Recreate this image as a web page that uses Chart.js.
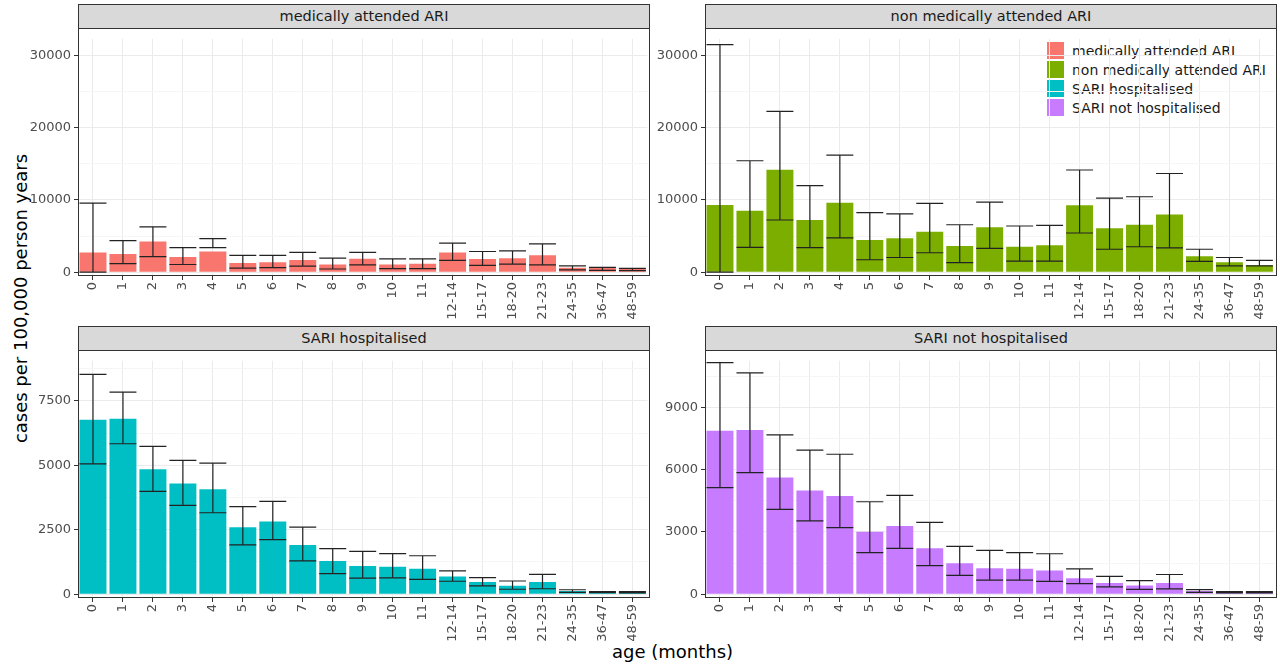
<!DOCTYPE html>
<html><head><meta charset="utf-8">
<script src="https://cdn.jsdelivr.net/npm/chart.js@4/dist/chart.umd.min.js"></script>
<style>
body{margin:0;width:1280px;height:667px;background:#fff;position:relative;font-family:"DejaVu Sans",sans-serif;overflow:hidden}
.c{position:absolute}
.strip{position:absolute;background:#d9d9d9;border:1px solid #333;box-sizing:border-box;text-align:center;font-size:14.5px;color:#1a1a1a;line-height:23px}
.frame{position:absolute;border:1px solid #333;box-sizing:border-box;pointer-events:none}
#legend{position:absolute;left:1047px;top:41px;font-size:14px;color:#1a1a1a}
#legend div{height:19px;line-height:18px;display:flex;align-items:center}
#legend span{display:inline-block;width:17px;height:17px;margin-right:8px}
.ttl{position:absolute;font-size:18px;color:#000}
</style></head><body>
<div id="legend"></div>
<div class="ttl" style="left:612px;top:641px">age (months)</div>
<div class="ttl" style="left:-130px;top:288px;width:300px;text-align:center;transform:rotate(-90deg)">cases per 100,000 person years</div>
<script>
const categories=["0","1","2","3","4","5","6","7","8","9","10","11","12-14","15-17","18-20","21-23","24-35","36-47","48-59"];
const seriesNames=["medically attended ARI","non medically attended ARI","SARI hospitalised","SARI not hospitalised"];
const maMean=[2730,2510,4230,2110,2860,1280,1370,1670,1060,1850,1060,1150,2730,1810,1940,2330,620,560,480];
const maLow=[0,1190,2160,1060,3390,570,620,840,440,1010,480,480,1630,930,1100,1010,310,260,220];
const maUp=[9560,4360,6260,3390,4630,2330,2330,2730,1940,2730,1850,1850,4010,2860,2950,3920,880,660,530];
const nmMean=[9300,8500,14190,7220,9600,4450,4710,5590,3610,6210,3520,3740,9250,6080,6560,7970,2200,1370,970];
const nmLow=[0,3440,7220,3390,4760,1720,2030,2690,1320,3300,1540,1540,5420,3170,3520,3350,1500,880,880];
const nmUp=[31500,15420,22250,11980,16210,8240,8060,9520,6560,9690,6390,6480,14140,10260,10440,13660,3170,2030,1630];
const shMean=[6770,6810,4850,4300,4070,2600,2820,1910,1290,1090,1060,990,680,470,330,470,120,90,90];
const shLow=[5060,5840,3990,3450,3160,1910,2120,1290,800,620,630,570,500,320,190,210,70,60,50];
const shUp=[8530,7840,5740,5190,5090,3400,3600,2600,1770,1660,1570,1490,900,640,510,770,170,100,100];
const snMean=[7890,7920,5630,5000,4740,3010,3290,2210,1490,1250,1230,1140,770,540,420,540,150,110,110];
const snLow=[5140,5860,4090,3540,3210,2000,2210,1380,910,680,680,620,510,350,230,260,90,60,60];
const snUp=[11170,10680,7690,6950,6750,4460,4770,3460,2310,2110,2000,1950,1220,860,650,950,220,120,120];
const topMajor=[0,10000,20000,30000],topMinor=[5000,15000,25000];
const shMajor=[0,2500,5000,7500],shMinor=[1250,3750,6250,8750];
const snMajor=[0,3000,6000,9000],snMinor=[1500,4500,7500,10500];
const colors=["#F8766D","#7CAE00","#00BFC4","#C77CFF"];

const lg=document.getElementById('legend');
seriesNames.forEach((n,i)=>{const d=document.createElement('div');d.innerHTML='<span style="background:'+colors[i]+'"></span>'+n;lg.appendChild(d);});

const errPlugin={id:'err',afterDatasetsDraw(ch){
  const o=ch.options.plugins.err;const x=ch.scales.x,y=ch.scales.y,ctx=ch.ctx;
  const meta=ch.getDatasetMeta(0);const w=meta.data[0].width;
  ctx.save();ctx.strokeStyle='#222';ctx.lineWidth=1.2;
  o.low.forEach((lo,i)=>{const cx=x.getPixelForValue(i),yl=y.getPixelForValue(lo),yu=y.getPixelForValue(o.up[i]);
    ctx.beginPath();ctx.moveTo(cx,yl);ctx.lineTo(cx,yu);
    ctx.moveTo(cx-w/2,yl);ctx.lineTo(cx+w/2,yl);ctx.moveTo(cx-w/2,yu);ctx.lineTo(cx+w/2,yu);ctx.stroke();});
  ctx.restore();}};

function panel(p){
  const stripH=24;
  const s=document.createElement('div');s.className='strip';
  s.style.cssText+=`left:${p.pl}px;top:${p.pt-stripH}px;width:${p.pr-p.pl}px;height:${stripH+1}px`;
  s.textContent=p.title;document.body.appendChild(s);
  const cv=document.createElement('canvas');cv.className='c';
  const W=p.pr-p.cl,H=p.pb-p.pt+50;
  cv.style.cssText=`left:${p.cl}px;top:${p.pt}px;width:${W}px;height:${H}px`;
  document.body.appendChild(cv);
  const f=document.createElement('div');f.className='frame';
  f.style.cssText=`left:${p.pl}px;top:${p.pt}px;width:${p.pr-p.pl}px;height:${p.pb-p.pt}px`;document.body.appendChild(f);
  const allT=[...p.major,...p.minor].sort((a,b)=>a-b);
  new Chart(cv,{type:'bar',data:{labels:categories,datasets:[{data:p.mean,backgroundColor:p.color,barPercentage:0.9,categoryPercentage:1}]},
   options:{responsive:false,animation:false,devicePixelRatio:1,layout:{padding:0},
    plugins:{legend:{display:false},tooltip:{enabled:false},err:{low:p.low,up:p.up}},
    scales:{
     x:{grid:{offset:false,color:'#ebebeb',tickColor:'#333',tickLength:4},border:{display:false},
        ticks:{minRotation:90,maxRotation:90,autoSkip:false,color:'#4d4d4d',font:{size:13,family:'DejaVu Sans'},padding:2},
        afterFit(a){a.height=50;}},
     y:{min:p.min,max:p.max,grid:{color:c=>p.major.includes(c.tick.value)?'#ebebeb':'#f5f5f5',tickColor:c=>p.major.includes(c.tick.value)?'#333':'rgba(0,0,0,0)',tickLength:4},
        border:{display:false},
        afterBuildTicks(a){a.ticks=allT.map(v=>({value:v}));},
        ticks:{color:'#4d4d4d',font:{size:13,family:'DejaVu Sans'},padding:3,callback:v=>p.major.includes(v)?String(v):''},
        afterFit(a){a.width=p.pl-p.cl;}}
    }},plugins:[errPlugin]});
}
panel({title:"medically attended ARI",cl:0,pl:78,pr:650,pt:28,pb:276,mean:maMean,low:maLow,up:maUp,color:colors[0],min:-530,max:32300,major:topMajor,minor:topMinor});
panel({title:"non medically attended ARI",cl:650,pl:705,pr:1277,pt:28,pb:276,mean:nmMean,low:nmLow,up:nmUp,color:colors[1],min:-530,max:32300,major:topMajor,minor:topMinor});
panel({title:"SARI hospitalised",cl:0,pl:78,pr:650,pt:350,pb:598,mean:shMean,low:shLow,up:shUp,color:colors[2],min:-150,max:9060,major:shMajor,minor:shMinor});
panel({title:"SARI not hospitalised",cl:650,pl:705,pr:1277,pt:350,pb:598,mean:snMean,low:snLow,up:snUp,color:colors[3],min:-185,max:11260,major:snMajor,minor:snMinor});
</script></body></html>
